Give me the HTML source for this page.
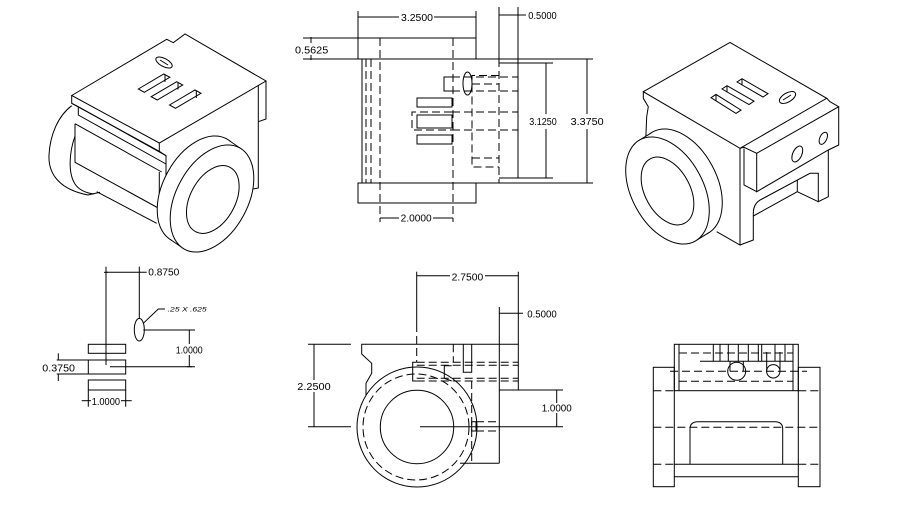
<!DOCTYPE html>
<html><head><meta charset="utf-8"><style>
html,body{margin:0;padding:0;background:#fff;}
svg{display:block;}
text{font-family:"Liberation Sans",sans-serif;font-size:10px;fill:#000;stroke:none;}
</style></head><body>
<svg width="910" height="505" viewBox="0 0 910 505" xmlns="http://www.w3.org/2000/svg">
<rect x="0" y="0" width="910" height="505" fill="#fff"/>
<g stroke="#000" stroke-width="1" fill="none">

<!-- ================= LEFT ISO ================= -->
<path d="M71.7,95.5 L166.7,39.3 L173.3,42.7 L185,34 L266,81 L159.3,143 Z"/>
<path d="M71.7,95.5 V103.3 L159.3,151.3 V143"/>
<path d="M159.3,151.3 L166,155.7 V181.7"/>
<path d="M71.7,103.3 L78.3,106.7 L166,155.7"/>
<path d="M78.3,106.7 V115 L166,164"/>
<path d="M75,123.7 L161.7,172"/>
<path d="M75,123.7 V162.3 L160,209"/>
<path d="M159.3,172 V223.3"/>
<path d="M96.7,191.7 L156.7,223.3"/>
<path d="M71.7,105.7 C58,116 50,135 49,155 C48,176 62,190 88,195 L100,192.3"/>
<path d="M75,136 C69,153 68,173 75,184 C79,190 86,193 94,194"/>
<path d="M258.3,85 V188 L253.3,189"/>
<path d="M266,81 V119 L258.3,121.7"/>
<!-- slots -->
<ellipse cx="164" cy="62.5" rx="9" ry="4" transform="rotate(28 164 62.5)"/>
<line x1="160" y1="60" x2="168" y2="65"/>
<polygon points="138.3,89 163.8,74 169.8,77.3 144.3,92.3"/>
<line x1="165" y1="75" x2="165" y2="82"/>
<polygon points="151.2,96.7 176.7,81.7 182.7,85 157.2,100"/>
<line x1="178" y1="82.5" x2="178" y2="89.5"/>
<polygon points="169.5,105 195,90 201,93.3 175.5,108.3"/>
<line x1="196.3" y1="91" x2="196.3" y2="98"/>
<!-- cylinder -->
<ellipse cx="199" cy="189.5" rx="57.7" ry="35.8" transform="rotate(-61.6 199 189.5)" fill="#fff"/>
<polygon points="228.5,140.1 241.5,149.1 182.5,247.9 169.5,238.9" fill="#fff" stroke="none"/>
<line x1="228.5" y1="140.1" x2="241.5" y2="149.1"/>
<line x1="169.5" y1="238.9" x2="182.5" y2="247.9"/>
<ellipse cx="212" cy="198.5" rx="57.7" ry="35.8" transform="rotate(-61.6 212 198.5)" fill="#fff"/>
<ellipse cx="212.8" cy="199.5" rx="36.5" ry="22.5" transform="rotate(-61.6 212.8 199.5)"/>

<!-- ================= TOP VIEW ================= -->
<rect x="358" y="38" width="118" height="21"/>
<rect x="358" y="183" width="118" height="20"/>
<polyline points="499,59 362,59 362,183 499,183"/>
<line x1="518" y1="7" x2="518" y2="178"/>
<line x1="499" y1="7" x2="499" y2="59"/>
<line x1="358" y1="11" x2="358" y2="38"/>
<line x1="476" y1="11" x2="476" y2="38"/>
<line x1="358" y1="17" x2="399" y2="17"/>
<line x1="434" y1="17" x2="476" y2="17"/>
<line x1="499" y1="15" x2="526" y2="15"/>
<line x1="303" y1="38" x2="358" y2="38"/>
<line x1="303" y1="59" x2="362" y2="59"/>
<line x1="311" y1="37" x2="311" y2="43"/>
<line x1="311" y1="55" x2="311" y2="60"/>
<line x1="308" y1="38" x2="314" y2="38"/>
<line x1="499" y1="59" x2="593" y2="59"/>
<line x1="499" y1="183" x2="593" y2="183"/>
<line x1="499" y1="63" x2="553" y2="63"/>
<line x1="499" y1="178" x2="553" y2="178"/>
<line x1="546" y1="63" x2="546" y2="114"/>
<line x1="546" y1="129" x2="546" y2="178"/>
<line x1="587" y1="59" x2="587" y2="114"/>
<line x1="587" y1="129" x2="587" y2="183"/>
<line x1="380" y1="218" x2="399" y2="218"/>
<line x1="433" y1="218" x2="453" y2="218"/>
<polyline points="452,77 444,77 444,91 452,91"/>
<rect x="417" y="98" width="35" height="9"/>
<rect x="417" y="115" width="35" height="13"/>
<rect x="417" y="135" width="35" height="9"/>
<ellipse cx="467.5" cy="83.5" rx="4.5" ry="11.5"/>
<g stroke-dasharray="8 4">
<line x1="366" y1="59" x2="366" y2="183"/>
<line x1="371" y1="59" x2="371" y2="183"/>
<line x1="380" y1="38" x2="380" y2="222"/>
<line x1="453" y1="38" x2="453" y2="222"/>
<line x1="499" y1="59" x2="499" y2="183"/>
<line x1="452" y1="77" x2="518" y2="77"/>
<line x1="452" y1="91" x2="518" y2="91"/>
<polyline points="452,112 412,112 412,130 452,130"/>
<line x1="452" y1="112" x2="518" y2="112"/>
<line x1="452" y1="130" x2="518" y2="130"/>
<polyline points="499,75.5 472,75.5 472,167 499,167"/>
<line x1="472" y1="84" x2="499" y2="84"/>
<line x1="472" y1="158" x2="499" y2="158"/>
</g>

<!-- ================= RIGHT ISO ================= -->
<path d="M643.3,91.7 L730,42.5 L826.7,98.3 L740,148.3 Z"/>
<path d="M826.7,98.3 L830,101.7 L838.7,106.7 L756.7,153.3 L744,147.3 L740,148.3"/>
<path d="M838.7,106.7 V145 L828.3,150 L756.7,191.7 V153.3"/>
<path d="M744,148.5 V185 L756.7,191.7"/>
<path d="M740,148.3 V245 L716.7,231.7"/>
<path d="M643.3,91.7 V98.3 L648.3,106.7 L646.7,116.7 L645.7,140"/>
<path d="M740,245 L753.3,240 V213.3 Q753.3,203 762,199 L810,173.3 L818.3,173.3 V201.7 L828.3,196.7 V150"/>
<path d="M753.3,216 L797.3,191.7 V180"/>
<path d="M797.3,191.7 L818.3,201.7"/>
<ellipse cx="797.3" cy="154" rx="4.5" ry="8.5" transform="rotate(25 797.3 154)"/>
<ellipse cx="823.3" cy="138.3" rx="3.5" ry="6.5" transform="rotate(25 823.3 138.3)"/>
<ellipse cx="787.5" cy="97.5" rx="9" ry="4.5" transform="rotate(-30 787.5 97.5)"/>
<line x1="783" y1="100" x2="791" y2="95"/>
<polygon points="711,97.7 736,113.4 741,110.1 716,94.4"/>
<polygon points="722,89 749,104.5 754,101.2 727,85.7"/>
<polygon points="737,82 763,97 768,93.7 742,78.7"/>
<line x1="716" y1="94.4" x2="716" y2="101"/>
<line x1="727" y1="85.7" x2="727" y2="92.3"/>
<line x1="742" y1="78.7" x2="742" y2="85.3"/>
<!-- cylinder -->
<ellipse cx="680.5" cy="182.5" rx="57.7" ry="35.8" transform="rotate(61.6 680.5 182.5)" fill="#fff"/>
<polygon points="651,133.1 638,141.1 697,239.9 710,231.9" fill="#fff" stroke="none"/>
<line x1="651" y1="133.1" x2="638" y2="141.1"/>
<line x1="710" y1="231.9" x2="697" y2="239.9"/>
<ellipse cx="667.5" cy="190.5" rx="57.7" ry="35.8" transform="rotate(61.6 667.5 190.5)" fill="#fff"/>
<ellipse cx="667.5" cy="191" rx="36.5" ry="22.5" transform="rotate(61.6 667.5 191)"/>

<!-- ================= LOWER LEFT ================= -->
<line x1="106" y1="266.7" x2="106" y2="365"/>
<line x1="139.3" y1="266.7" x2="139.3" y2="318"/>
<line x1="106" y1="272.3" x2="146.7" y2="272.3"/>
<line x1="104" y1="272.3" x2="108" y2="272.3"/>
<ellipse cx="139.3" cy="329.7" rx="5" ry="11.3"/>
<polyline points="143.3,323.3 158.3,309 165,309"/>
<line x1="143.3" y1="330" x2="195" y2="330"/>
<line x1="110" y1="366.7" x2="195" y2="366.7"/>
<line x1="189.3" y1="330" x2="189.3" y2="344"/>
<line x1="189.3" y1="355" x2="189.3" y2="366.7"/>
<line x1="187" y1="330" x2="192" y2="330"/>
<line x1="187" y1="366.7" x2="192" y2="366.7"/>
<rect x="88.3" y="344.3" width="37.4" height="9"/>
<rect x="88.3" y="360" width="37.4" height="14"/>
<rect x="88.3" y="380" width="37.4" height="10"/>
<line x1="56.7" y1="360" x2="88.3" y2="360"/>
<line x1="56.7" y1="374" x2="88.3" y2="374"/>
<line x1="58.3" y1="353.3" x2="58.3" y2="360"/>
<line x1="58.3" y1="374" x2="58.3" y2="381"/>
<line x1="88.3" y1="390" x2="88.3" y2="406.7"/>
<line x1="125.7" y1="390" x2="125.7" y2="406.7"/>
<line x1="81.7" y1="400.7" x2="91" y2="400.7"/>
<line x1="121" y1="400.7" x2="131.7" y2="400.7"/>

<!-- ================= FRONT VIEW ================= -->
<path d="M518.3,390 V344.3 H361.7 V354 L371.7,363.3 V373.3 L366,383.3 V395"/>
<line x1="499.3" y1="344.3" x2="499.3" y2="463.3"/>
<line x1="499.3" y1="390" x2="563" y2="390"/>
<line x1="460" y1="463.3" x2="499.3" y2="463.3"/>
<circle cx="417" cy="427" r="60"/>
<circle cx="417" cy="427" r="36.7"/>
<line x1="420" y1="426.7" x2="563" y2="426.7"/>
<line x1="308" y1="344.3" x2="351" y2="344.3"/>
<line x1="308" y1="426.7" x2="351" y2="426.7"/>
<line x1="314" y1="344.3" x2="314" y2="380"/>
<line x1="314" y1="392" x2="314" y2="426.7"/>
<line x1="416.7" y1="271.7" x2="416.7" y2="332"/>
<line x1="518.3" y1="271.7" x2="518.3" y2="344.3"/>
<line x1="416.7" y1="275.7" x2="450" y2="275.7"/>
<line x1="485" y1="275.7" x2="518.3" y2="275.7"/>
<line x1="499.3" y1="307" x2="499.3" y2="344.3"/>
<line x1="499.3" y1="313.3" x2="523" y2="313.3"/>
<line x1="556.7" y1="390" x2="556.7" y2="403"/>
<line x1="556.7" y1="413" x2="556.7" y2="426.7"/>
<path d="M416.7,362.3 H412.7 V381 H416.7"/>
<path d="M451.7,365.7 H444.3 V378.3 L451.7,381"/>
<path d="M463.3,344.3 V372.3 H471.7 V344.3"/>
<rect x="471.7" y="421.7" width="4.3" height="9.3"/>
<g stroke-dasharray="8 4">
<circle cx="416" cy="427" r="53"/>
<line x1="416.7" y1="336" x2="416.7" y2="362"/>
<line x1="453.3" y1="344.3" x2="453.3" y2="362"/>
<line x1="416.7" y1="362.3" x2="518.3" y2="362.3"/>
<line x1="416.7" y1="365.3" x2="518.3" y2="365.3"/>
<line x1="416.7" y1="378.3" x2="518.3" y2="378.3"/>
<line x1="416.7" y1="381" x2="518.3" y2="381"/>
<line x1="471.7" y1="381" x2="471.7" y2="463.3"/>
<line x1="476" y1="421.7" x2="499.3" y2="421.7"/>
<line x1="476" y1="431" x2="499.3" y2="431"/>
</g>

<!-- ================= LOWER RIGHT VIEW ================= -->
<rect x="653.3" y="367.3" width="21" height="119.4"/>
<rect x="798.3" y="367.3" width="21.7" height="119.4"/>
<rect x="674.3" y="344.3" width="124" height="46.4"/>
<line x1="679" y1="344.3" x2="679" y2="390.7"/>
<line x1="793" y1="344.3" x2="793" y2="390.7"/>
<line x1="674.3" y1="464.3" x2="798.3" y2="464.3"/>
<line x1="674.3" y1="476.7" x2="798.3" y2="476.7"/>
<path d="M690,464.3 V429 Q690,421.7 698,421.7 H775 Q782.7,421.7 782.7,429 V464.3"/>
<circle cx="736.7" cy="371.3" r="9"/>
<circle cx="773.3" cy="371.3" r="6.7"/>
<g>
<line x1="713.3" y1="344.3" x2="713.3" y2="361.3"/>
<line x1="720" y1="344.3" x2="720" y2="361.3"/>
<line x1="728.3" y1="344.3" x2="728.3" y2="361.3"/>
<line x1="738.3" y1="344.3" x2="738.3" y2="361.3"/>
<line x1="748.3" y1="344.3" x2="748.3" y2="361.3"/>
<line x1="758.3" y1="344.3" x2="758.3" y2="361.3"/>
<line x1="761.7" y1="344.3" x2="761.7" y2="361.3"/>
<line x1="775" y1="344.3" x2="775" y2="361.3"/>
<line x1="785" y1="344.3" x2="785" y2="361.3"/>
<line x1="730" y1="361.3" x2="730" y2="371.3"/>
<line x1="743.3" y1="361.3" x2="743.3" y2="371.3"/>
<line x1="766.7" y1="352" x2="766.7" y2="371.3"/>
<line x1="780" y1="352" x2="780" y2="371.3"/>
<line x1="700" y1="361.3" x2="793" y2="361.3"/>
</g>
<g stroke-dasharray="8 4">
<line x1="653.3" y1="390.7" x2="674.3" y2="390.7"/>
<line x1="798.3" y1="390.7" x2="820" y2="390.7"/>
<line x1="653.3" y1="427.3" x2="820" y2="427.3"/>
<line x1="653.3" y1="464.3" x2="674.3" y2="464.3"/>
<line x1="798.3" y1="464.3" x2="820" y2="464.3"/>
<line x1="679" y1="353" x2="793" y2="353"/>
<line x1="670" y1="371.3" x2="807" y2="371.3"/>
<line x1="679" y1="381.3" x2="793" y2="381.3"/>
</g>
</g>

<!-- ================= TEXT ================= -->
<text x="401" y="21" textLength="32" lengthAdjust="spacingAndGlyphs">3.2500</text>
<text x="528.3" y="19" textLength="28.4" lengthAdjust="spacingAndGlyphs">0.5000</text>
<text x="295" y="53.3" textLength="33.3" lengthAdjust="spacingAndGlyphs">0.5625</text>
<text x="529.3" y="125" textLength="27.4" lengthAdjust="spacingAndGlyphs">3.1250</text>
<text x="570.7" y="125" textLength="33" lengthAdjust="spacingAndGlyphs">3.3750</text>
<text x="400.7" y="221.7" textLength="31" lengthAdjust="spacingAndGlyphs">2.0000</text>
<text x="148.3" y="275.7" textLength="31" lengthAdjust="spacingAndGlyphs">0.8750</text>
<text x="167.7" y="311.7" textLength="39" lengthAdjust="spacingAndGlyphs" style="font-size:6px;font-style:italic">.25 X .625</text>
<text x="175.7" y="353.3" textLength="27" lengthAdjust="spacingAndGlyphs">1.0000</text>
<text x="42.3" y="371.7" textLength="32.7" lengthAdjust="spacingAndGlyphs">0.3750</text>
<text x="91.7" y="405" textLength="28.3" lengthAdjust="spacingAndGlyphs">1.0000</text>
<text x="451.7" y="280.5" textLength="31.6" lengthAdjust="spacingAndGlyphs">2.7500</text>
<text x="527.3" y="317.5" textLength="29.4" lengthAdjust="spacingAndGlyphs">0.5000</text>
<text x="297.3" y="390" textLength="33.4" lengthAdjust="spacingAndGlyphs">2.2500</text>
<text x="541.7" y="411.7" textLength="30" lengthAdjust="spacingAndGlyphs">1.0000</text>
</svg>
</body></html>
